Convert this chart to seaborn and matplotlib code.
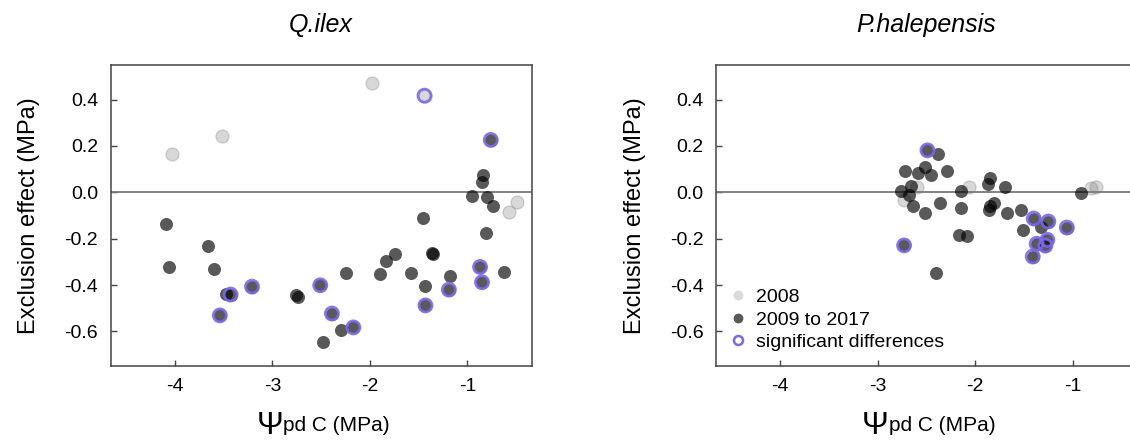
import numpy as np
import pandas as pd
import matplotlib
matplotlib.use("Agg")
import matplotlib.pyplot as plt
from matplotlib.lines import Line2D
import seaborn as sns

# ---------------- data ----------------
titles = ["Q.ilex", "P.halepensis"]
xticks = [-4, -3, -2, -1]
yticks = [-0.6, -0.4, -0.2, 0.0, 0.2, 0.4]
legend_labels = ["2008", "2009 to 2017", "significant differences"]

# Q. ilex
qi_2008_x = [-4.03, -3.52, -1.98, -1.44, -0.49, -0.57]
qi_2008_y = [0.164, 0.243, 0.472, 0.417, -0.041, -0.085]
qi_2008_sig = [0, 0, 0, 1, 0, 0]

qi_late_x = [-4.09, -4.06, -3.66, -3.60, -3.48, -3.43, -3.21, -3.54, -2.76, -2.74,
             -2.51, -2.48, -2.39, -2.30, -2.25, -2.17, -1.90, -1.83, -1.74, -1.58,
             -1.46, -1.43, -1.43, -1.36, -1.35, -1.18, -1.19, -0.87, -0.85, -0.62,
             -0.81, -0.76, -0.84, -0.85, -0.95, -0.80, -0.74]
qi_late_y = [-0.136, -0.322, -0.230, -0.331, -0.437, -0.441, -0.407, -0.531, -0.443, -0.450,
             -0.401, -0.644, -0.523, -0.596, -0.350, -0.583, -0.354, -0.296, -0.266, -0.347,
             -0.111, -0.403, -0.488, -0.262, -0.265, -0.362, -0.420, -0.322, -0.388, -0.344,
             -0.174, 0.226, 0.075, 0.046, -0.016, -0.020, -0.060]
qi_late_sig = [0, 0, 0, 0, 0, 1, 1, 1, 0, 0,
               1, 0, 1, 0, 0, 1, 0, 0, 0, 0,
               0, 0, 1, 0, 0, 0, 1, 1, 1, 0,
               0, 1, 0, 0, 0, 0, 0]

# P. halepensis
ph_2008_x = [-2.60, -2.73, -2.06, -0.81, -0.76]
ph_2008_y = [0.021, -0.035, 0.024, 0.017, 0.025]
ph_2008_sig = [0, 0, 0, 0, 0]

ph_late_x = [-2.49, -2.38, -2.72, -2.59, -2.52, -2.45, -2.29, -2.66, -2.76, -2.68,
             -2.64, -2.52, -2.36, -2.15, -2.15, -2.17, -2.08, -2.40, -2.73, -1.85,
             -1.87, -1.69, -1.81, -1.85, -1.86, -1.67, -1.53, -1.51, -1.40, -1.32,
             -1.25, -1.26, -1.28, -1.37, -1.41, -1.06, -0.91]
ph_late_y = [0.181, 0.164, 0.090, 0.083, 0.111, 0.073, 0.090, 0.027, 0.007, -0.011,
             -0.058, -0.090, -0.044, 0.007, -0.066, -0.182, -0.188, -0.350, -0.229, 0.063,
             0.036, 0.023, -0.048, -0.059, -0.076, -0.090, -0.076, -0.164, -0.113, -0.148,
             -0.126, -0.205, -0.230, -0.222, -0.277, -0.152, -0.004]
ph_late_sig = [1, 0, 0, 0, 0, 0, 0, 0, 0, 0,
               0, 0, 0, 0, 0, 0, 0, 0, 1, 0,
               0, 0, 0, 0, 0, 0, 0, 0, 1, 0,
               1, 1, 1, 1, 1, 1, 0]

panels = [
    (qi_2008_x, qi_2008_y, qi_2008_sig, qi_late_x, qi_late_y, qi_late_sig),
    (ph_2008_x, ph_2008_y, ph_2008_sig, ph_late_x, ph_late_y, ph_late_sig),
]

# ---------------- style ----------------
sns.set_style("white")
plt.rcParams["font.family"] = ["Liberation Sans", "DejaVu Sans"]
plt.rcParams["axes.unicode_minus"] = False
plt.rcParams["text.color"] = "black"

LIGHT = (0.5, 0.5, 0.5, 0.3)
DARK = (0.0, 0.0, 0.0, 0.65)
RING = "#7B68EE"
SPINE = "#444444"

fig = plt.figure(figsize=(11.3, 4.42), dpi=100)
W, H = 1130, 442
ax_w = 421 / W
ax_h = 300.4 / H
ax_b = (H - 365.7) / H
lefts = [110.7 / W, 716 / W]

for i, (x08, y08, s08, xl, yl, sl) in enumerate(panels):
    ax = fig.add_axes([lefts[i], ax_b, ax_w, ax_h])
    ax.axhline(0, color="#777777", lw=1.3, zorder=1)

    df08 = pd.DataFrame({"x": x08, "y": y08, "sig": s08})
    dfl = pd.DataFrame({"x": xl, "y": yl, "sig": sl})

    sns.scatterplot(data=df08, x="x", y="y", ax=ax, color=LIGHT,
                    edgecolor=LIGHT, linewidth=1.0, s=88, legend=False, zorder=2)
    sns.scatterplot(data=dfl, x="x", y="y", ax=ax, color=DARK,
                    linewidth=0, s=88, legend=False, zorder=3)
    sig = pd.concat([df08[df08.sig == 1], dfl[dfl.sig == 1]])
    ax.scatter(sig["x"], sig["y"], s=88, facecolors="none", edgecolors=RING,
               linewidths=2.0, alpha=0.9, zorder=4)

    ax.set_xlim(-4.66, -0.34)
    ax.set_ylim(-0.748, 0.548)
    ax.set_xticks(xticks)
    ax.set_xticklabels([f"{t:d}" for t in xticks])
    ax.set_yticks(yticks)
    ax.set_yticklabels([f"{t:.1f}" for t in yticks])
    ax.tick_params(direction="in", length=4, width=1, colors=SPINE,
                   labelcolor="black", labelsize=14, bottom=True, left=True,
                   top=False, right=False)
    ax.tick_params(axis="x", pad=9)
    ax.tick_params(axis="y", pad=9)
    ax.set_xlabel("")
    ax.set_ylabel("")
    for sp in ax.spines.values():
        sp.set_color(SPINE)
        sp.set_linewidth(1.1)

    ax.text(0.5, 1.133, titles[i], transform=ax.transAxes, ha="center",
            va="center", fontsize=18, style="italic")
    ax.text(-0.193, 0.5, "Exclusion effect (MPa)", transform=ax.transAxes,
            rotation=90, ha="center", va="center", fontsize=17)
    ax.text(0.41, -0.2, "Ψ", transform=ax.transAxes, ha="right",
            va="center", fontsize=23)
    ax.text(0.41, -0.2, "pd C (MPa)", transform=ax.transAxes, ha="left",
            va="center", fontsize=15)

    if i == 1:
        handles = [
            Line2D([], [], marker="o", linestyle="none", markersize=6,
                   markerfacecolor="#d9d9d9", markeredgecolor="#d9d9d9"),
            Line2D([], [], marker="o", linestyle="none", markersize=6,
                   markerfacecolor="#595959", markeredgecolor="#595959"),
            Line2D([], [], marker="o", linestyle="none", markersize=6.5,
                   markerfacecolor="none", markeredgecolor=RING, markeredgewidth=1.8),
        ]
        ax.legend(handles, legend_labels, loc="lower left", frameon=False,
                  fontsize=14, handlelength=0.8, handletextpad=0.5,
                  labelspacing=0.25, borderaxespad=0.55, borderpad=0.2)

fig.savefig("out.png", dpi=100)
